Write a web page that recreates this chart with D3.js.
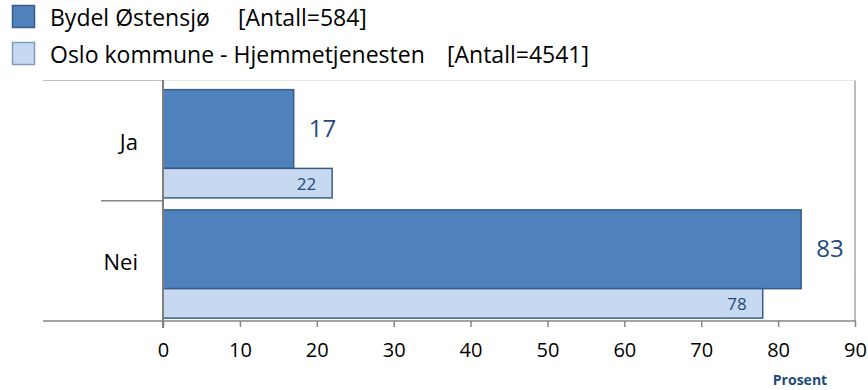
<!DOCTYPE html>
<html>
<head>
<meta charset="utf-8">
<script src="https://cdn.jsdelivr.net/npm/d3@7"></script>
<style>
  html, body { margin: 0; padding: 0; background: #ffffff; }
  svg { display: block; font-family: "Open Sans", "Noto Sans", sans-serif; }
</style>
</head>
<body>
<svg id="chart" width="868" height="390"></svg>
<script>
// Answer categories and percentages per group
const categories = ["Ja", "Nei"];
const seriesNames = ["Bydel Østensjø", "Oslo kommune - Hjemmetjenesten"];
const seriesCounts = ["[Antall=584]", "[Antall=4541]"];
const bydelValues = [17, 83];
const osloValues = [22, 78];
const xTicks = [0, 10, 20, 30, 40, 50, 60, 70, 80, 90];
const axisTitle = "Prosent";

const darkFill = "#4F81BD", lightFill = "#C6D9F1", barStroke = "#385D8A";
const labelColor = "#1F497D", axisGrey = "#868686";

const svg = d3.select("#chart");

const x = d3.scaleLinear().domain([0, 90]).range([163, 855]);
const y = d3.scaleBand().domain(categories).range([80.5, 321]).padding(0);
const bw = y.bandwidth();

// Plot frame: light top edge and right edge
svg.append("line").attr("x1", 43).attr("x2", 163).attr("y1", 80.5).attr("y2", 80.5)
  .attr("stroke", "#BFBFBF").attr("stroke-width", 1);
svg.append("line").attr("x1", 163).attr("x2", 855).attr("y1", 80.5).attr("y2", 80.5)
  .attr("stroke", "#E6E6E6").attr("stroke-width", 1);
svg.append("line").attr("x1", 855).attr("x2", 855).attr("y1", 80.5).attr("y2", 321)
  .attr("stroke", "#A6A6A6").attr("stroke-width", 1.5);

// Category divider on the left
svg.append("line").attr("x1", 101).attr("x2", 163).attr("y1", y("Nei")).attr("y2", y("Nei"))
  .attr("stroke", axisGrey).attr("stroke-width", 1.5);

const rows = categories.map((c, i) => ({ c, a: bydelValues[i], b: osloValues[i] }));

// Dark bars (Bydel Østensjø)
svg.selectAll("rect.dark").data(rows).join("rect").attr("class", "dark")
  .attr("x", x(0)).attr("y", d => y(d.c) + bw * 0.076)
  .attr("width", d => x(d.a) - x(0)).attr("height", bw * 0.655)
  .attr("fill", darkFill).attr("stroke", barStroke).attr("stroke-width", 1.5);

// Light bars (Oslo kommune)
svg.selectAll("rect.light").data(rows).join("rect").attr("class", "light")
  .attr("x", x(0)).attr("y", d => y(d.c) + bw * 0.731)
  .attr("width", d => x(d.b) - x(0)).attr("height", bw * 0.245)
  .attr("fill", lightFill).attr("stroke", barStroke).attr("stroke-width", 1.5);

// Value labels
svg.selectAll("text.vdark").data(rows).join("text").attr("class", "vdark")
  .attr("x", d => x(d.a) + 15).attr("y", d => y(d.c) + bw * 0.076 + bw * 0.655 / 2 - 2)
  .attr("dominant-baseline", "central")
  .attr("font-size", 24).attr("fill", labelColor).text(d => d.a);
svg.selectAll("text.vlight").data(rows).join("text").attr("class", "vlight")
  .attr("x", d => x(d.b) - 16).attr("y", d => y(d.c) + bw * 0.731 + bw * 0.245 / 2)
  .attr("text-anchor", "end").attr("dominant-baseline", "central")
  .attr("font-size", 17).attr("fill", labelColor).text(d => d.b);

// Category labels
svg.selectAll("text.cat").data(categories).join("text").attr("class", "cat")
  .attr("x", 138).attr("y", d => y(d) + bw / 2)
  .attr("text-anchor", "end").attr("dominant-baseline", "central")
  .attr("font-size", 22).attr("fill", "#000").text(d => d);

// X axis
const xAxis = d3.axisBottom(x).tickValues(xTicks).tickSize(6).tickPadding(16).tickSizeOuter(0);
const gx = svg.append("g").attr("transform", "translate(0,321)").call(xAxis);
gx.select(".domain").remove();
gx.selectAll(".tick line").attr("stroke", axisGrey).attr("stroke-width", 1.5);
gx.selectAll(".tick text").attr("font-size", 20).attr("fill", "#000")
  .attr("font-family", "'Open Sans', sans-serif");
svg.append("line").attr("x1", 43).attr("x2", 856).attr("y1", 321).attr("y2", 321)
  .attr("stroke", axisGrey).attr("stroke-width", 1.5);

// Y axis line
svg.append("line").attr("x1", 163).attr("x2", 163).attr("y1", 80).attr("y2", 328)
  .attr("stroke", "#7F7F7F").attr("stroke-width", 2);

// Axis title
svg.append("text").attr("x", 800).attr("y", 379).attr("text-anchor", "middle")
  .attr("dominant-baseline", "central")
  .attr("font-size", 14).attr("font-weight", "bold").attr("fill", labelColor).text(axisTitle);

// Legend
const legendFills = [darkFill, lightFill];
const legendCountX = [238, 447];
const lg = svg.selectAll("g.legend").data(seriesNames).join("g").attr("class", "legend")
  .attr("transform", (d, i) => `translate(0,${5 + i * 37})`);
lg.append("rect").attr("x", 12.5).attr("y", 0.5).attr("width", 22).attr("height", 22)
  .attr("fill", (d, i) => legendFills[i])
  .attr("stroke", (d, i) => i === 0 ? barStroke : "#7F9BC4").attr("stroke-width", 1.5);
lg.append("text").attr("x", 50).attr("y", 11.5).attr("dominant-baseline", "central")
  .attr("font-size", 23).attr("fill", "#000").text(d => d);
lg.append("text").attr("x", (d, i) => legendCountX[i]).attr("y", 11.5).attr("dominant-baseline", "central")
  .attr("font-size", 23).attr("fill", "#000").text((d, i) => seriesCounts[i]);
</script>
</body>
</html>
